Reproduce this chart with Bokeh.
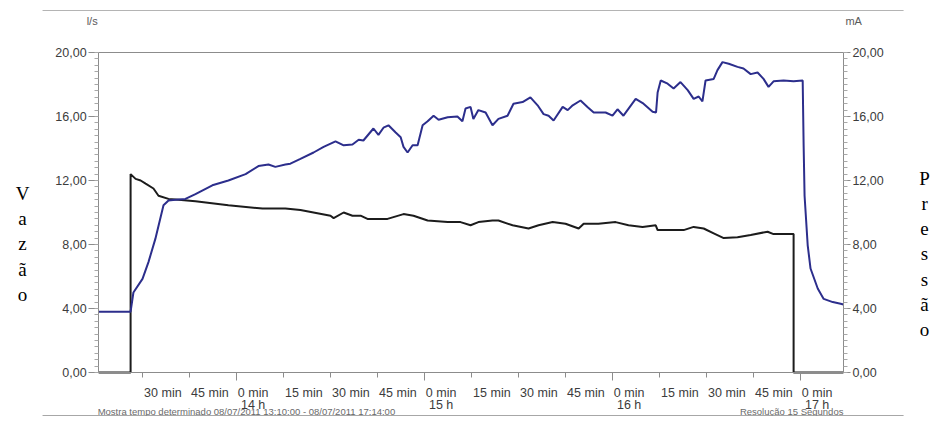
from bokeh.plotting import figure
from bokeh.models import Range1d, LinearAxis, SingleIntervalTicker, FixedTicker
from bokeh.core.properties import value
from bokeh.embed import file_html
from bokeh.resources import INLINE

# ---- data (time = minutes after 13:00 on 08/07/2011) ----
black_t = [16.0, 26.2, 26.2, 27.8, 29.4, 31.0, 33.5, 35.1, 38.3, 41.5, 46.9, 57.4, 68.3, 75.6,
           80.4, 90.0, 91.0, 94.2, 97.0, 99.6, 101.8, 108.2, 113.3, 116.5, 121.0, 127.4, 131.5,
           134.7, 137.2, 141.7, 143.6, 148.1, 153.2, 156.4, 160.9, 165.0, 169.2, 170.8, 175.5,
           181.0, 185.1, 189.6, 193.8, 194.4, 202.7, 205.9, 209.1, 212.3, 215.5, 219.9, 224.1,
           229.5, 231.4, 237.8, 237.8, 253.7]
black_v = [0, 0, 12.4, 12.1, 12.0, 11.8, 11.5, 11.05, 10.85, 10.8, 10.7, 10.45, 10.25, 10.25,
           10.15, 9.8, 9.65, 10.0, 9.8, 9.8, 9.6, 9.6, 9.9, 9.8, 9.5, 9.4, 9.4,
           9.2, 9.4, 9.5, 9.5, 9.2, 9.0, 9.2, 9.4, 9.3, 9.0, 9.3, 9.3,
           9.4, 9.2, 9.1, 9.2, 8.9, 8.9, 9.1, 9.0, 8.7, 8.4, 8.45, 8.6,
           8.8, 8.65, 8.65, 0, 0]

blue_t = [16.0, 26.2, 27.1, 30.0, 31.9, 34.1, 36.7, 38.3, 40.5, 43.7,
          46.9, 52.3, 57.4, 62.9, 67.0, 70.2, 72.4, 75.6, 77.2, 80.4,
          84.6, 87.8, 91.6, 94.2, 97.0, 99.0, 100.5, 103.7, 105.3, 106.9,
          108.5, 110.8, 112.4, 113.3, 114.6, 116.2, 117.8, 119.4, 121.0, 122.9,
          124.5, 127.4, 130.5, 132.1, 133.1, 134.7, 135.6, 137.2, 139.5, 141.7,
          143.6, 146.5, 148.4, 151.3, 153.8, 156.1, 158.0, 159.6, 161.2, 164.1,
          165.7, 167.3, 169.8, 172.0, 174.0, 177.8, 180.0, 181.6, 183.5, 187.4,
          189.9, 192.8, 193.9, 194.4, 195.4, 197.6, 199.5, 201.7, 204.0, 205.9,
          207.5, 208.7, 209.7, 212.3, 213.5, 215.1, 217.1, 219.9, 221.8, 224.1,
          226.3, 228.2, 229.8, 231.4, 234.6, 237.8, 240.7, 241.0, 241.3, 242.3,
          243.2, 245.5, 247.4, 250.3, 252.8, 253.7]
blue_v = [3.8, 3.8, 5.0, 5.85, 6.9, 8.35, 10.45, 10.75, 10.8, 10.85,
          11.15, 11.7, 12.0, 12.4, 12.9, 13.0, 12.85, 13.0, 13.05, 13.35,
          13.75, 14.1, 14.45, 14.2, 14.25, 14.55, 14.5, 15.25, 14.85, 15.3,
          15.45, 15.0, 14.7, 14.1, 13.75, 14.2, 14.2, 15.45, 15.7, 16.05,
          15.8, 15.95, 16.0, 15.7, 16.5, 16.6, 15.85, 16.4, 16.25, 15.45,
          15.85, 16.05, 16.8, 16.9, 17.2, 16.7, 16.15, 16.05, 15.75, 16.6,
          16.4, 16.7, 17.0, 16.6, 16.25, 16.25, 16.05, 16.45, 16.05, 17.1,
          16.8, 16.3, 16.25, 17.5, 18.25, 18.05, 17.75, 18.15, 17.65, 17.1,
          17.25, 16.95, 18.25, 18.35, 18.9, 19.4, 19.3, 19.1, 19.0, 18.65,
          18.75, 18.35, 17.85, 18.2, 18.25, 18.2, 18.25, 14.2, 11.05, 7.95,
          6.5, 5.25, 4.6, 4.4, 4.3, 4.25]

y_ticks = [0, 4, 8, 12, 16, 20]
y_tick_labels = ["0,00", "4,00", "8,00", "12,00", "16,00", "20,00"]
x_tick_minutes = [30, 45, 60, 75, 90, 105, 120, 135, 150, 165, 180, 195, 210, 225, 240]
x_tick_labels = ["30 min", "45 min", "0 min", "15 min", "30 min", "45 min", "0 min",
                 "15 min", "30 min", "45 min", "0 min", "15 min", "30 min", "45 min", "0 min"]
hour_minutes = [60, 120, 180, 240]
hour_labels = ["14 h", "15 h", "16 h", "17 h"]
footer_left = "Mostra tempo determinado 08/07/2011 13:10:00 - 08/07/2011 17:14:00"
footer_right = "Resolução 15 Segundos"
left_unit = "l/s"
right_unit = "mA"
left_title = "V\na\nz\nã\no"
right_title = "P\nr\ne\ns\ns\nã\no"

# ---- layout constants ----
X_START, X_END = 16.0, 253.7          # time window of the plot box
Y_MIN, Y_MAX = 0, 20                  # value window of the plot box
GRAY = "#8c8c8c"
TXT = "#3c3c3c"
FONT = "Liberation Sans"

# The figure's frame covers the whole canvas; the axes are pinned with fixed_location,
# so that all the texts around the plot box can be drawn in the same coordinates.
p = figure(width=931, height=416, output_backend="svg", toolbar_location=None,
           x_range=Range1d(-15.32, 281.81), y_range=Range1d(-2.75, 23.25),
           min_border=0, min_border_left=0, min_border_right=0,
           min_border_top=0, min_border_bottom=0)
p.xgrid.visible = False
p.ygrid.visible = False
p.outline_line_color = None
p.background_fill_color = "white"
p.border_fill_color = "white"

overrides = {t: l for t, l in zip(y_ticks, y_tick_labels)}


def style_y(ax, tick_out):
    ax.ticker = SingleIntervalTicker(interval=4, num_minor_ticks=10)
    ax.bounds = (Y_MIN, Y_MAX)
    ax.major_label_overrides = overrides
    ax.axis_line_color = GRAY
    ax.major_tick_line_color = GRAY
    ax.minor_tick_line_color = "#a8a8a8"
    ax.major_tick_out = tick_out
    ax.major_tick_in = 0
    ax.minor_tick_out = 4
    ax.minor_tick_in = 0
    ax.major_label_standoff = 2
    ax.major_label_text_font = FONT
    ax.major_label_text_font_size = "12.5px"
    ax.major_label_text_color = TXT


ya = p.yaxis[0]
ya.fixed_location = X_START
style_y(ya, 10)
ra = LinearAxis(fixed_location=X_END)
style_y(ra, 7)
p.add_layout(ra, "right")

# time axis: quarter-hour ticks + the minute labels, written to the right of their tick
quarter_ticks = [m for m in x_tick_minutes if m not in hour_minutes]
label_pos = [m + (5.3 if m in hour_minutes else 6.5) for m in x_tick_minutes]
xa = p.xaxis[0]
xa.fixed_location = Y_MIN
xa.bounds = (X_START, X_END)
xa.ticker = FixedTicker(ticks=label_pos, minor_ticks=quarter_ticks)
xa.major_label_overrides = {pp: t for pp, t in zip(label_pos, x_tick_labels)}
xa.axis_line_color = GRAY
xa.major_tick_line_color = None
xa.major_tick_out = 0
xa.major_tick_in = 0
xa.minor_tick_line_color = GRAY
xa.minor_tick_out = 5
xa.minor_tick_in = 0
xa.major_label_standoff = 8
xa.major_label_text_font = FONT
xa.major_label_text_font_size = "12.5px"
xa.major_label_text_color = TXT

# time axis: hour ticks and hour labels
hour_pos = [m + 5.3 for m in hour_minutes]
xh = LinearAxis(fixed_location=Y_MIN, bounds=(X_START, X_END),
                ticker=FixedTicker(ticks=hour_pos, minor_ticks=hour_minutes),
                major_label_overrides={pp: t for pp, t in zip(hour_pos, hour_labels)})
xh.axis_line_color = None
xh.major_tick_line_color = None
xh.major_tick_out = 0
xh.major_tick_in = 0
xh.minor_tick_line_color = GRAY
xh.minor_tick_out = 8
xh.minor_tick_in = 0
xh.major_label_standoff = 17
xh.major_label_text_font = FONT
xh.major_label_text_font_size = "12.5px"
xh.major_label_text_color = TXT
p.add_layout(xh, "below")

# plot box top edge
p.line([X_START, X_END], [Y_MAX, Y_MAX], line_color=GRAY, line_width=1)

# series
p.line(black_t, black_v, line_color="#1c1c1c", line_width=2)
p.line(blue_t, blue_v, line_color="#2c2e8c", line_width=2)

# texts around the plot box
p.text(x=[X_START], y=[21.94], text=[left_unit], x_offset=-1, text_align="right",
       text_baseline="middle", text_font=value(FONT), text_font_size="11px",
       text_color="#5a5a5a")
p.text(x=[X_END], y=[21.94], text=[right_unit], x_offset=2, text_align="left",
       text_baseline="middle", text_font=value(FONT), text_font_size="11px",
       text_color="#5a5a5a")
p.text(x=[X_START], y=[-2.44], text=[footer_left], x_offset=-1, text_align="left",
       text_baseline="middle", text_font=value(FONT), text_font_size="9.5px",
       text_color="#6a6a6a")
p.text(x=[X_END], y=[-2.44], text=[footer_right], text_align="right",
       text_baseline="middle", text_font=value(FONT), text_font_size="9.5px",
       text_color="#6a6a6a")
p.text(x=[-8.3], y=[11.84], text=[left_title], text_align="center", text_baseline="top",
       text_font=value("Liberation Serif"), text_font_size="19px",
       text_line_height=1.2, text_color="black")
p.text(x=[279.6], y=[12.79], text=[right_title], text_align="center", text_baseline="top",
       text_font=value("Liberation Serif"), text_font_size="19px",
       text_line_height=1.2, text_color="black")

# thin edges of the chart picture
p.line([-1.9, 272.9], [22.625, 22.625], line_color="#b4b4b4", line_width=1)
p.line([-1.9, 272.9], [-2.72, -2.72], line_color="#8a8a8a", line_width=1.5)

open("out.html", "w").write(file_html(p, INLINE))
